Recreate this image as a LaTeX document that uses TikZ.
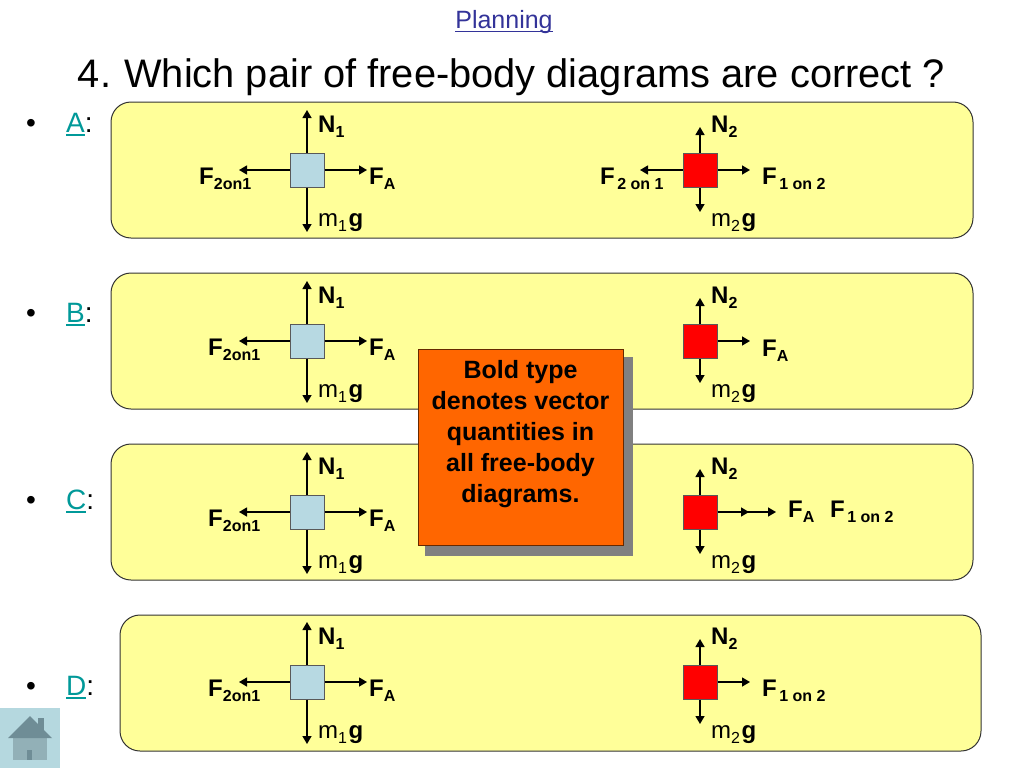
\documentclass[tikz,border=0pt]{standalone}
\usepackage{fontspec}
\setmainfont{Liberation Sans}
\usetikzlibrary{arrows.meta}
\frenchspacing
\definecolor{panelfill}{HTML}{FFFF99}
\definecolor{blueblock}{HTML}{B7D9E2}
\definecolor{redblock}{HTML}{FF0000}
\definecolor{calloutfill}{HTML}{FF6600}
\definecolor{shadowgray}{HTML}{808080}
\definecolor{linkteal}{HTML}{009999}
\definecolor{linkblue}{HTML}{333399}
\definecolor{homebg}{HTML}{B5D8DF}
\definecolor{homedark}{HTML}{6F8D96}
\definecolor{homebody}{HTML}{92B0B7}
\newcommand{\fs}[1]{\fontsize{#1}{#1}\selectfont}
\newcommand{\sbs}[1]{\raisebox{-5.5pt}{\fs{16}\bfseries #1}}
\newcommand{\sbn}[1]{\raisebox{-5.5pt}{\fs{16}#1}}
\newcommand{\gapsub}[1]{\hspace{2.5pt}\sbs{#1}}
\newcommand{\ulin}[1]{\setbox0=\hbox{#1}\rlap{\raisebox{-3.5pt}{\rule{\wd0}{1.5pt}}}\box0}
\tikzset{
  x=1pt,y=-1pt,
  panel/.style={draw=black!80,line width=1pt,fill=panelfill,rounded corners=20pt,inner sep=0pt,minimum height=136pt},
  block/.style={draw=black!65,line width=1pt,inner sep=0pt,minimum width=34pt,minimum height=34pt},
  force/.style={line width=1.4pt,-{Triangle[length=8pt,width=9pt]}},
  lab/.style={inner sep=0pt,anchor=base west,font=\fs{24}},
  item/.style={inner sep=0pt,anchor=base west,font=\fs{28}},
}
% #1 prefix, #2 centre y, #3 x of the left label
\newcommand{\bodyone}[3]{%
  \node[block,fill=blueblock] (#1b) at (307,#2) {};
  \coordinate (#1u) at (307,#2-60);
  \coordinate (#1d) at (307,#2+62);
  \coordinate (#1l) at (239,#2);
  \coordinate (#1r) at (367,#2);
  \draw[force] (#1b.north) -- (#1u);
  \draw[force] (#1b.south) -- (#1d);
  \draw[force] (#1b.west) -- (#1l);
  \draw[force] (#1b.east) -- (#1r);
  \node[lab] (#1n) at (318,#2-38) {\bfseries N\sbs{1}};
  \node[lab] (#1m) at (318,#2+56) {m\sbn{1}\hspace{1.5pt}\bfseries g};
  \node[lab] (#1f) at (369,#2+14) {\bfseries F\sbs{A}};
  \node[lab] (#1t) at (#3,#2+14) {\bfseries F\sbs{2on1}};
}
\newcommand{\bodytwo}[2]{%
  \node[block,fill=redblock] (#1b) at (700,#2) {};
  \coordinate (#1u) at (700,#2-43);
  \coordinate (#1d) at (700,#2+42);
  \draw[force] (#1b.north) -- (#1u);
  \draw[force] (#1b.south) -- (#1d);
  \node[lab] (#1n) at (711,#2-38) {\bfseries N\sbs{2}};
  \node[lab] (#1m) at (711,#2+56) {m\sbn{2}\hspace{1.5pt}\bfseries g};
}
\begin{document}
\begin{tikzpicture}
\useasboundingbox (0,0) rectangle (1024,768);
\fill[white] (0,0) rectangle (1024,768);
% heading
\node[inner sep=0pt,anchor=base,font=\fs{25},text=linkblue] (plan) at (504,29) {\ulin{Planning}};
\node[inner sep=0pt,anchor=base,font=\fs{39.8}] (title) at (511.5,87) {4.\hspace{2.2pt} Which pair of free-body diagrams are correct ?};
% home icon
\fill[homebg] (0,708) rectangle (60,768);
\fill[homedark] (38,718) rectangle (44,732);
\fill[homebody] (13,736) rectangle (47,760);
\fill[homedark] (30,716) -- (52,738) -- (8,738) -- cycle;
\fill[homedark] (27,750) rectangle (32,760);
% panels
\node[panel,minimum width=862pt] (panelA) at (542,170) {};
\node[panel,minimum width=862pt] (panelB) at (542,341) {};
\node[panel,minimum width=862pt] (panelC) at (542,512) {};
\node[panel,minimum width=861pt] (panelD) at (550.5,683) {};
% bullets
\node[item] (bulA) at (26,132) {•};
\node[item] (labA) at (66,132) {\textcolor{linkteal}{\ulin{A}}:};
\node[item] (bulB) at (26,322) {•};
\node[item] (labB) at (66,322) {\textcolor{linkteal}{\ulin{B}}:};
\node[item] (bulC) at (26,509) {•};
\node[item] (labC) at (66,509) {\textcolor{linkteal}{\ulin{C}}:};
\node[item] (bulD) at (26,695) {•};
\node[item] (labD) at (66,695) {\textcolor{linkteal}{\ulin{D}}:};
% left bodies
\bodyone{a}{170}{199}
\bodyone{b}{341}{208}
\bodyone{c}{512}{208}
\bodyone{e}{682}{208}
% right bodies
\bodytwo{p}{170}
\coordinate (pl) at (640,170);
\coordinate (pr) at (750,170);
\draw[force] (pb.west) -- (pl);
\draw[force] (pb.east) -- (pr);
\node[lab] (pt) at (600,184) {\bfseries F\gapsub{2 on 1}};
\node[lab] (pf) at (762,184) {\bfseries F\gapsub{1 on 2}};
\bodytwo{q}{341}
\coordinate (qr) at (750,341);
\draw[force] (qb.east) -- (qr);
\node[lab] (qf) at (762,356) {\bfseries F\sbs{A}};
\bodytwo{r}{512}
\coordinate (rm) at (749,512);
\coordinate (rr) at (776,512);
\draw[force] (rb.east) -- (rm);
\draw[force] (rb.east) -- (rr);
\node[lab] (rf) at (788,517) {\bfseries F\sbs{A}};
\node[lab] (rt) at (830,517) {\bfseries F\gapsub{1 on 2}};
\bodytwo{s}{682}
\coordinate (sr) at (750,682);
\draw[force] (sb.east) -- (sr);
\node[lab] (sf) at (762,696) {\bfseries F\gapsub{1 on 2}};
% callout
\fill[shadowgray] (425,357) rectangle (633,556);
\node[draw=black!60!calloutfill,line width=1pt,fill=calloutfill,inner sep=0pt,minimum width=205pt,minimum height=196pt,
      anchor=north west] (note) at (418,349) {};
\node[inner sep=0pt,anchor=base,align=center,font=\fontsize{25}{31}\selectfont\bfseries] (notetext) at (520.5,502)
  {Bold type\\denotes vector\\quantities in\\all free-body\\diagrams.};
\end{tikzpicture}
\end{document}
